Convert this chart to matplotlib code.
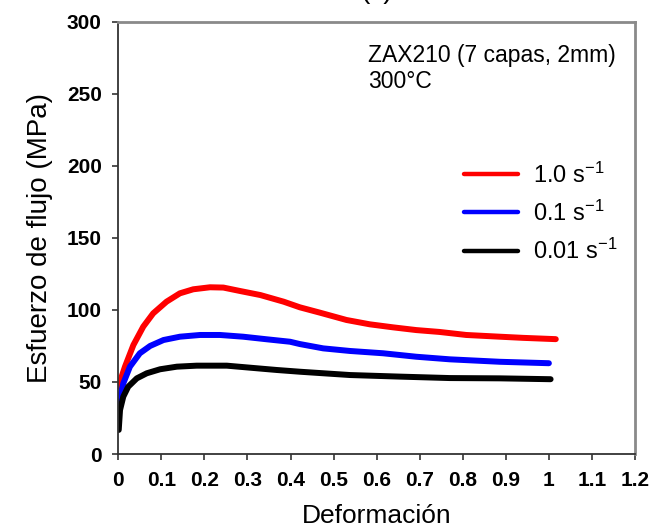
import matplotlib
matplotlib.use("Agg")
import matplotlib.pyplot as plt

plt.rcParams["font.family"] = ["Liberation Sans", "DejaVu Sans"]
plt.rcParams["mathtext.fontset"] = "custom"
plt.rcParams["mathtext.rm"] = "Liberation Sans"
plt.rcParams["mathtext.default"] = "regular"

# Curvas esfuerzo-deformación, ZAX210 a 300 °C
strain_10 = [0.0, 0.0155, 0.035, 0.058, 0.081, 0.112, 0.143, 0.174, 0.213, 0.244,
             0.283, 0.33, 0.384, 0.4216, 0.468, 0.53, 0.584, 0.638, 0.692, 0.746,
             0.808, 0.886, 0.94, 1.016]
stress_10 = [46.7, 60.6, 75.6, 88.4, 97.6, 105.7, 111.5, 114.3, 115.7, 115.5,
             113.1, 110.3, 105.7, 101.8, 98.1, 93.0, 90.0, 87.9, 86.0, 84.7,
             82.6, 81.4, 80.6, 79.7]

strain_01 = [0.0, 0.0116, 0.027, 0.05, 0.074, 0.105, 0.143, 0.19, 0.236, 0.29,
             0.345, 0.399, 0.4216, 0.476, 0.538, 0.615, 0.692, 0.77, 0.886, 1.0]
stress_01 = [34.0, 49.0, 60.6, 69.9, 75.0, 79.1, 81.4, 82.6, 82.6, 81.4,
             79.6, 77.9, 76.3, 73.3, 71.5, 69.9, 67.5, 65.7, 64.0, 63.0]

strain_001 = [0.001, 0.004, 0.0116, 0.023, 0.043, 0.066, 0.097, 0.136, 0.182, 0.252,
              0.306, 0.368, 0.4216, 0.538, 0.654, 0.77, 0.886, 1.004]
stress_001 = [16.7, 30.5, 39.8, 46.7, 52.5, 56.0, 58.8, 60.6, 61.3, 61.3,
              59.9, 58.3, 57.1, 54.8, 53.7, 52.7, 52.5, 51.9]

series = [
    (strain_10, stress_10, "red", "1.0 s$^{-1}$"),
    (strain_01, stress_01, "blue", "0.1 s$^{-1}$"),
    (strain_001, stress_001, "black", "0.01 s$^{-1}$"),
]

x_ticks = [0, 0.1, 0.2, 0.3, 0.4, 0.5, 0.6, 0.7, 0.8, 0.9, 1.0, 1.1, 1.2]
x_labels = ["0", "0.1", "0.2", "0.3", "0.4", "0.5", "0.6", "0.7", "0.8", "0.9", "1", "1.1", "1.2"]
y_ticks = [0, 50, 100, 150, 200, 250, 300]

fig = plt.figure(figsize=(6.52, 5.31), dpi=100)
ax = fig.add_axes([118.3 / 652, 77 / 531, (635 - 118.3) / 652, (454 - 21.7) / 531])

for x, y, c, lab in series:
    ax.plot(x, y, color=c, lw=4.3, label=lab, solid_capstyle="round",
            solid_joinstyle="round")

ax.set_xlim(0, 1.2)
ax.set_ylim(0, 300)
ax.set_xticks(x_ticks)
ax.set_xticklabels(x_labels)
ax.set_yticks(y_ticks)
ax.tick_params(direction="out", length=4, width=1.2, pad=8, labelsize=15, color="#333333")
for t in ax.get_xticklabels() + ax.get_yticklabels():
    t.set_fontweight("bold")

for s in ("left", "bottom"):
    ax.spines[s].set_color("#333333")
    ax.spines[s].set_linewidth(1.3)
for s in ("top", "right"):
    ax.spines[s].set_color("#8a8a8a")
    ax.spines[s].set_linewidth(2)

ax.set_xlabel("Deformación", fontsize=19, labelpad=10)
ax.set_ylabel("Esfuerzo de flujo (MPa)", fontsize=20, labelpad=10)

ax.text(0.58, 272.2, "ZAX210 (7 capas, 2mm)", fontsize=16.5, va="baseline", ha="left")
ax.text(0.58, 253.8, "300°C", fontsize=16.5, va="baseline", ha="left")

leg = ax.legend(loc="upper left", bbox_to_anchor=(0.628, 0.724), frameon=False,
                fontsize=17, handlelength=2.3, handletextpad=0.6, labelspacing=0.55)
for ln in leg.get_lines():
    ln.set_linewidth(3.2)

fig.text(0.577, 1.0 + 2 / 531, "(c)", fontsize=20, ha="center", va="baseline")

fig.savefig("out.png", dpi=100)
